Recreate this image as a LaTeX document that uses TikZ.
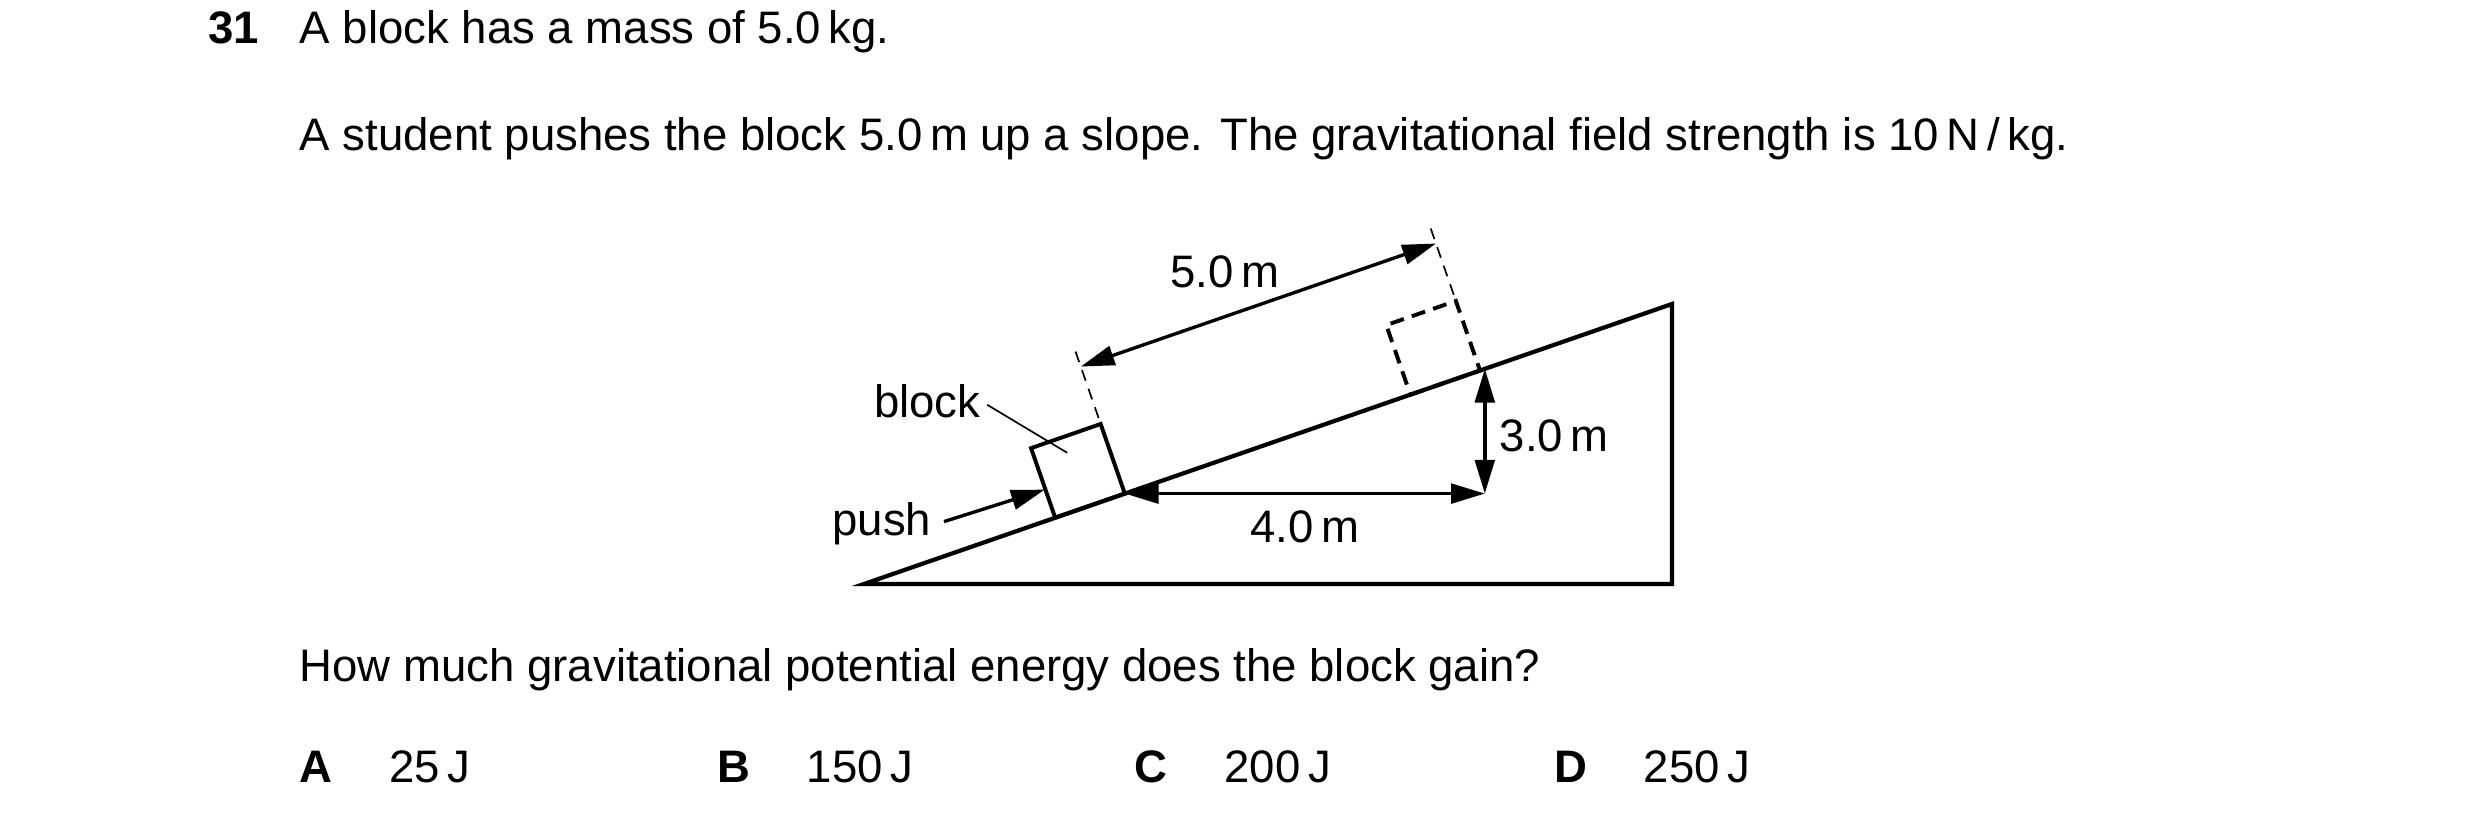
\documentclass[tikz,border=0pt]{standalone}
\usepackage{fontspec}
\setmainfont{Liberation Sans}
\usetikzlibrary{arrows.meta,calc}

\begin{document}
\begin{tikzpicture}[x=0.02cm,y=-0.02cm,font=\fontsize{16.2}{19}\selectfont]
\tikzstyle{slope}=[line width=1.5pt,line join=miter]
\tikzstyle{box}=[line width=1.4pt]
\tikzstyle{dim}=[line width=1.2pt,{Triangle[length=12pt,width=7pt]}-{Triangle[length=12pt,width=7pt]}]
\tikzstyle{ext}=[line width=0.6pt,dash pattern=on 4pt off 3pt]
\tikzstyle{txt}=[anchor=base west,inner sep=0pt]
\useasboundingbox (0,0) rectangle (1550,509);

% Question text
\node[txt,font=\fontsize{16.2}{19}\selectfont\bfseries] (num) at (130,27) {31};
\node[txt] (q1) at (187,27) {A block has a mass of 5.0\,kg.};
\node[txt] (q2) at (187,94) {A student pushes the block 5.0\,m up a slope. The gravitational field strength is 10\,N\,/\,kg.};
\node[txt] (q3) at (187,426) {How much gravitational potential energy does the block gain?};

% Slope
\coordinate (BL) at (540,365);
\coordinate (BR) at (1045,365);
\coordinate (TR) at (1045,190);
\draw[slope] (BL) -- (BR) -- (TR) -- cycle;

% Block and its later position
\coordinate (b0) at (659.5,323.6);
\coordinate (b1) at (703,308.5);
\coordinate (b2) at (687.9,265);
\coordinate (b3) at (644.4,280.1);
\draw[box] (b0) -- (b1) -- (b2) -- (b3) -- cycle;
\coordinate (d0) at (881.5,246.7);
\coordinate (d1) at (925,231.6);
\coordinate (d2) at (909.9,188.1);
\coordinate (d3) at (866.4,203.2);
\draw[box,dash pattern=on 5pt off 3pt] (d0) -- (d1) -- (d2) -- (d3) -- cycle;

% Extension lines and 5.0 m
\coordinate (e1) at ($(b2)+(-1.3,-3.8)$);
\coordinate (e2) at ($(b2)+(-17,-49)$);
\coordinate (f1) at ($(d2)+(-1.3,-3.8)$);
\coordinate (f2) at ($(d2)+(-17,-49)$);
\draw[ext] (e1) -- (e2);
\draw[ext] (f1) -- (f2);
\coordinate (s1) at ($(b2)+(-12.4,-35.9)$);
\coordinate (s2) at ($(d2)+(-12.4,-35.9)$);
\draw[dim] (s1) -- (s2);
\node[txt] (L5) at (731,180) {5.0\,m};

% Rise and run
\coordinate (h) at (928,308.5);
\coordinate (v) at (928,230.5);
\draw[dim] (b1) -- (h);
\draw[dim] (h) -- (v);
\node[txt] (L4) at (781,339) {4.0\,m};
\node[txt] (L3) at (937,282) {3.0\,m};

% Labels
\node[txt] (blk) at (546,261) {block};
\draw[line width=0.6pt] (617,253) -- (667,283);
\node[txt] (push) at (520,335) {push};
\coordinate (pt) at (653,306);
\draw[line width=1.2pt,-{Triangle[length=12pt,width=7pt]}] (590,326) -- (pt);

% Answers
\foreach \lab/\val/\x in {A/25/187,B/150/448,C/200/709,D/250/971}
{
\node[txt,font=\fontsize{16.2}{19}\selectfont\bfseries] (opt\lab) at (\x,489) {\lab};
\node[txt] (val\lab) at (\x+56,489) {\val\,J};
}
\end{tikzpicture}
\end{document}
